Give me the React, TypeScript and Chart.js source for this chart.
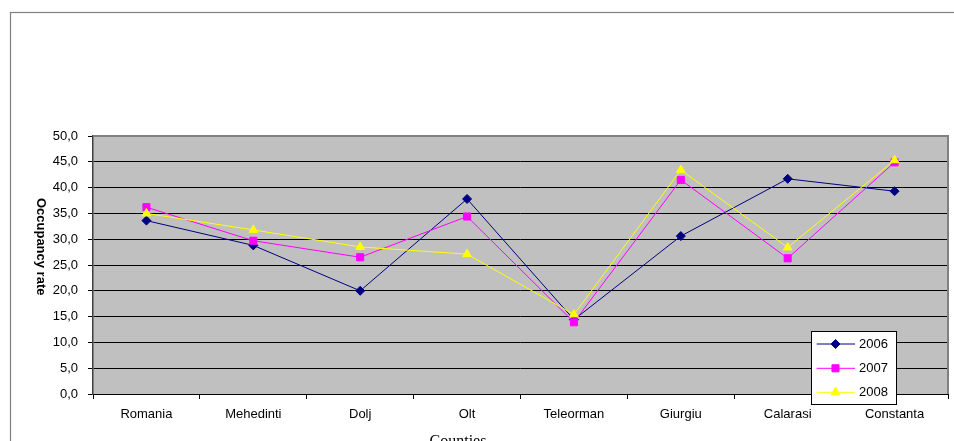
import React, { useEffect, useRef } from "react";
import { Chart, registerables } from "chart.js";

Chart.register(...registerables);

const categories = ["Romania", "Mehedinti", "Dolj", "Olt", "Teleorman", "Giurgiu", "Calarasi", "Constanta"];
const series2006 = [33.6, 28.8, 20.0, 37.8, 14.4, 30.6, 41.7, 39.3];
const series2007 = [36.2, 29.7, 26.5, 34.4, 13.9, 41.5, 26.3, 44.9];
const series2008 = [35.0, 31.8, 28.5, 27.1, 15.4, 43.4, 28.4, 45.3];
const seriesLabels = ["2006", "2007", "2008"];
const yTitle = "Occupancy rate";
const xTitle = "Counties";

const FONT = '"Liberation Sans", Arial, sans-serif';
const colors = ["#000080", "#FF00FF", "#FFFF00"];
const styles = ["rectRot", "rect", "triangle"];
const radii = [4.5, 5, 5];

function drawMarker(ctx: CanvasRenderingContext2D, style: string, r: number, x: number, y: number, color: string) {
  ctx.save();
  ctx.fillStyle = color;
  ctx.strokeStyle = color;
  ctx.lineWidth = 1;
  ctx.beginPath();
  if (style === "rectRot") {
    ctx.moveTo(x - r, y);
    ctx.lineTo(x, y - r);
    ctx.lineTo(x + r, y);
    ctx.lineTo(x, y + r);
  } else if (style === "rect") {
    const s = Math.SQRT1_2 * r;
    ctx.rect(x - s, y - s, 2 * s, 2 * s);
  } else {
    const half = (r * Math.sqrt(3)) / 2;
    ctx.moveTo(x, y - r);
    ctx.lineTo(x + half, y + r / 2);
    ctx.lineTo(x - half, y + r / 2);
  }
  ctx.closePath();
  ctx.fill();
  ctx.stroke();
  ctx.restore();
}

const decorPlugin = {
  id: "decor",
  beforeDraw(chart: any) {
    const { ctx, chartArea } = chart;
    ctx.save();
    ctx.fillStyle = "#ffffff";
    ctx.fillRect(0, 0, chart.width, chart.height);
    ctx.strokeStyle = "#808080";
    ctx.lineWidth = 1.2;
    ctx.strokeRect(10.5, 12.5, 1000, 600);
    ctx.fillStyle = "#C0C0C0";
    ctx.fillRect(chartArea.left, chartArea.top, chartArea.right - chartArea.left, chartArea.bottom - chartArea.top);
    ctx.restore();
  },
  beforeDatasetsDraw(chart: any) {
    const { ctx, chartArea } = chart;
    ctx.save();
    ctx.strokeStyle = "#808080";
    ctx.lineWidth = 2;
    ctx.beginPath();
    ctx.moveTo(chartArea.left, chartArea.top);
    ctx.lineTo(chartArea.right, chartArea.top);
    ctx.lineTo(chartArea.right, chartArea.bottom);
    ctx.stroke();
    ctx.restore();
  },
  afterDraw(chart: any) {
    const { ctx } = chart;
    ctx.save();
    ctx.translate(40.7, 246.7);
    ctx.rotate(Math.PI / 2);
    ctx.font = `bold 13px ${FONT}`;
    ctx.fillStyle = "#000";
    ctx.textAlign = "center";
    ctx.textBaseline = "middle";
    ctx.fillText(yTitle, 0, 0);
    ctx.restore();

    ctx.save();
    ctx.font = `16px "Liberation Serif", "Times New Roman", serif`;
    ctx.fillStyle = "#000";
    ctx.textAlign = "center";
    ctx.textBaseline = "alphabetic";
    ctx.fillText(xTitle, 458, 446);
    ctx.restore();

    const bx = 811.5, by = 331.5, bw = 85, bh = 73;
    ctx.save();
    ctx.fillStyle = "#ffffff";
    ctx.fillRect(bx, by, bw, bh);
    ctx.strokeStyle = "#000";
    ctx.lineWidth = 1;
    ctx.strokeRect(bx, by, bw, bh);
    const rows = [344, 368.3, 392.3];
    chart.data.datasets.forEach((ds: any, i: number) => {
      const y = rows[i];
      ctx.strokeStyle = colors[i];
      ctx.lineWidth = 1;
      ctx.beginPath();
      ctx.moveTo(816.7, y);
      ctx.lineTo(855, y);
      ctx.stroke();
      drawMarker(ctx, styles[i], radii[i], 835.5, y, colors[i]);
      ctx.fillStyle = "#000";
      ctx.font = `13px ${FONT}`;
      ctx.textAlign = "left";
      ctx.textBaseline = "middle";
      ctx.fillText(ds.label, 859, y + 0.5);
    });
    ctx.restore();
  },
};

export default function App() {
  const ref = useRef<HTMLCanvasElement>(null);
  useEffect(() => {
    if (!ref.current) return;
    const allSeries = [series2006, series2007, series2008];
    const chart = new Chart(ref.current, {
      type: "line",
      data: {
        labels: categories,
        datasets: allSeries.map((d, i) => ({
          label: seriesLabels[i],
          data: d,
          borderColor: colors[i],
          backgroundColor: colors[i],
          borderWidth: 1,
          pointStyle: styles[i] as any,
          pointRadius: radii[i],
          pointBorderWidth: 1,
          pointBackgroundColor: colors[i],
          pointBorderColor: colors[i],
          tension: 0,
          fill: false,
          order: 2 - i,
        })),
      },
      options: {
        animation: false,
        responsive: false,
        devicePixelRatio: 1,
        layout: { padding: { left: 0, top: 136, right: 6, bottom: 0 } },
        plugins: { legend: { display: false }, tooltip: { enabled: false }, title: { display: false } },
        scales: {
          x: {
            type: "category",
            offset: true,
            afterFit: (s: any) => {
              s.height = 47;
            },
            grid: { display: true, drawOnChartArea: false, drawTicks: true, tickLength: 5, color: "#000", offset: true },
            border: { display: true, color: "#000", width: 1 },
            ticks: { color: "#000", font: { family: FONT, size: 13 }, padding: 8, maxRotation: 0, autoSkip: false },
          },
          y: {
            min: 0,
            max: 50,
            afterFit: (s: any) => {
              s.width = 93;
            },
            grid: { color: "#000", lineWidth: 1, drawTicks: true, tickLength: 5 },
            border: { display: true, color: "#404040", width: 1.5 },
            ticks: {
              stepSize: 5,
              color: "#000",
              font: { family: FONT, size: 13 },
              padding: 10,
              callback: (v: any) => Number(v).toFixed(1).replace(".", ","),
            },
          },
        },
      },
      plugins: [decorPlugin],
    });
    return () => chart.destroy();
  }, []);
  return (
    <div style={{ position: "fixed", left: 0, top: 0, width: 954, height: 441, background: "#fff" }}>
      <canvas ref={ref} width={954} height={441} style={{ width: 954, height: 441, display: "block" }} />
    </div>
  );
}
